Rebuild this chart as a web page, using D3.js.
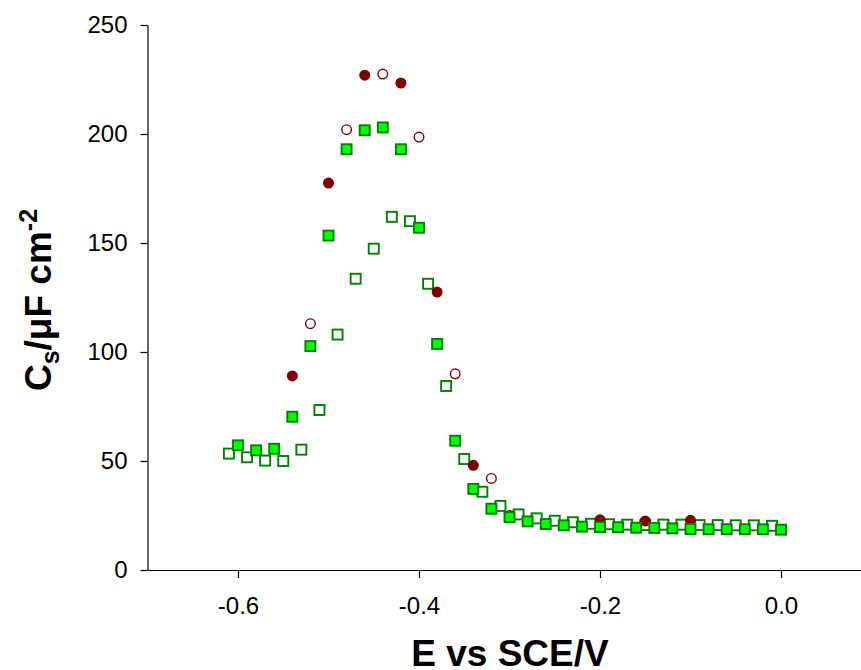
<!DOCTYPE html>
<html>
<head>
<meta charset="utf-8">
<script src="https://cdn.jsdelivr.net/npm/d3@7"></script>
<style>
  body { margin: 0; background: #fff; }
  svg { display: block; font-family: "Liberation Sans", Arial, sans-serif; }
</style>
</head>
<body>
<div id="chart"></div>
<script>
// filled dark red circles
const redFilledE = [-0.54, -0.50, -0.46, -0.42, -0.38, -0.34, -0.30, -0.20, -0.15, -0.10];
const redFilledC = [89, 177.5, 227, 223.4, 127.5, 48, 25, 23, 22.5, 22.8];

// open dark red circles
const redOpenE = [-0.52, -0.48, -0.44, -0.40, -0.36, -0.32];
const redOpenC = [113, 202, 227.5, 198.6, 90, 42];

// filled green squares
const greenFilledE = [-0.60, -0.58, -0.56, -0.54, -0.52, -0.50, -0.48, -0.46, -0.44, -0.42, -0.40,
  -0.38, -0.36, -0.34, -0.32, -0.30, -0.28, -0.26, -0.24, -0.22, -0.20, -0.18, -0.16, -0.14,
  -0.12, -0.10, -0.08, -0.06, -0.04, -0.02, 0.00];
const greenFilledC = [57.2, 54.9, 55.6, 70.3, 102.7, 153.4, 193, 201.7, 203, 193, 157,
  103.7, 59.3, 37.2, 28.1, 24.2, 22.3, 21.1, 20.5, 19.9, 19.7, 19.6, 19.4, 19.3,
  19.1, 18.8, 18.7, 18.7, 18.7, 18.7, 18.5];

// open green squares
const greenOpenE = [-0.61, -0.59, -0.57, -0.55, -0.53, -0.51, -0.49, -0.47, -0.45, -0.43, -0.41,
  -0.39, -0.37, -0.35, -0.33, -0.31, -0.29, -0.27, -0.25, -0.23, -0.21, -0.19, -0.17, -0.15,
  -0.13, -0.11, -0.09, -0.07, -0.05, -0.03, -0.01];
const greenOpenC = [53.4, 51.7, 50.2, 50, 55.2, 73.4, 108, 133.6, 147.4, 162, 160,
  131.3, 84.4, 50.9, 35.9, 29.4, 25.5, 23.7, 22.6, 21.9, 21.2, 21, 20.8, 20.6,
  20.8, 20.8, 20.6, 20.6, 20.5, 20.5, 20.3];

const xTicks = [-0.6, -0.4, -0.2, 0.0];
const yTicks = [0, 50, 100, 150, 200, 250];

const width = 861, height = 670;

const svg = d3.select('#chart')
  .append('svg')
  .attr('width', width)
  .attr('height', height);

const x = d3.scaleLinear().domain([-0.7, 0.1]).range([147.5, 871.5]);
const y = d3.scaleLinear().domain([0, 250]).range([570, 25]);

const zip = (es, cs) => es.map((e, i) => ({e: e, c: cs[i]}));

// axes
const xAxis = svg.append('g')
  .attr('transform', 'translate(0,570)')
  .call(d3.axisBottom(x).tickValues(xTicks).tickSize(8).tickSizeOuter(0).tickPadding(19)
    .tickFormat(d => d.toFixed(1)));

const yAxis = svg.append('g')
  .attr('transform', 'translate(147.5,0)')
  .call(d3.axisLeft(y).tickValues(yTicks).tickSize(7).tickSizeOuter(0).tickPadding(13));

[xAxis, yAxis].forEach(a => {
  a.selectAll('path, line').attr('stroke', '#000').attr('stroke-width', 1.2);
  a.selectAll('text').attr('fill', '#000').style('font-size', '24px')
    .style('font-family', '"Liberation Sans", Arial, sans-serif');
});

// markers
const marks = svg.append('g');

marks.append('g').selectAll('rect')
  .data(zip(greenOpenE, greenOpenC))
  .enter()
  .append('rect')
  .attr('x', d => x(d.e) - 5)
  .attr('y', d => y(d.c) - 5)
  .attr('width', 10)
  .attr('height', 10)
  .attr('fill', '#fff')
  .attr('stroke', '#008000')
  .attr('stroke-width', 1.9);

marks.append('g').selectAll('circle')
  .data(zip(redOpenE, redOpenC))
  .enter()
  .append('circle')
  .attr('cx', d => x(d.e))
  .attr('cy', d => y(d.c))
  .attr('r', 4.8)
  .attr('fill', '#fff')
  .attr('stroke', '#800000')
  .attr('stroke-width', 1.4);

marks.append('g').selectAll('circle')
  .data(zip(redFilledE, redFilledC))
  .enter()
  .append('circle')
  .attr('cx', d => x(d.e))
  .attr('cy', d => y(d.c))
  .attr('r', 5.5)
  .attr('fill', '#800000');

marks.append('g').selectAll('rect')
  .data(zip(greenFilledE, greenFilledC))
  .enter()
  .append('rect')
  .attr('x', d => x(d.e) - 5)
  .attr('y', d => y(d.c) - 5)
  .attr('width', 10)
  .attr('height', 10)
  .attr('fill', '#00ff00')
  .attr('stroke', '#008000')
  .attr('stroke-width', 1.9);

// titles
svg.append('text')
  .attr('x', 510)
  .attr('y', 666)
  .attr('text-anchor', 'middle')
  .style('font-size', '37px')
  .style('font-weight', 'bold')
  .text('E vs SCE/V');

const yTitle = svg.append('text')
  .attr('transform', 'translate(51,300) rotate(-90)')
  .attr('text-anchor', 'middle')
  .style('font-size', '37px')
  .style('font-weight', 'bold');
yTitle.append('tspan').text('C');
yTitle.append('tspan').attr('dy', 8).style('font-size', '25px').text('s');
yTitle.append('tspan').attr('dy', -8).text('/\u03bcF cm');
yTitle.append('tspan').attr('dy', -14).style('font-size', '25px').text('-2');
</script>
</body>
</html>
